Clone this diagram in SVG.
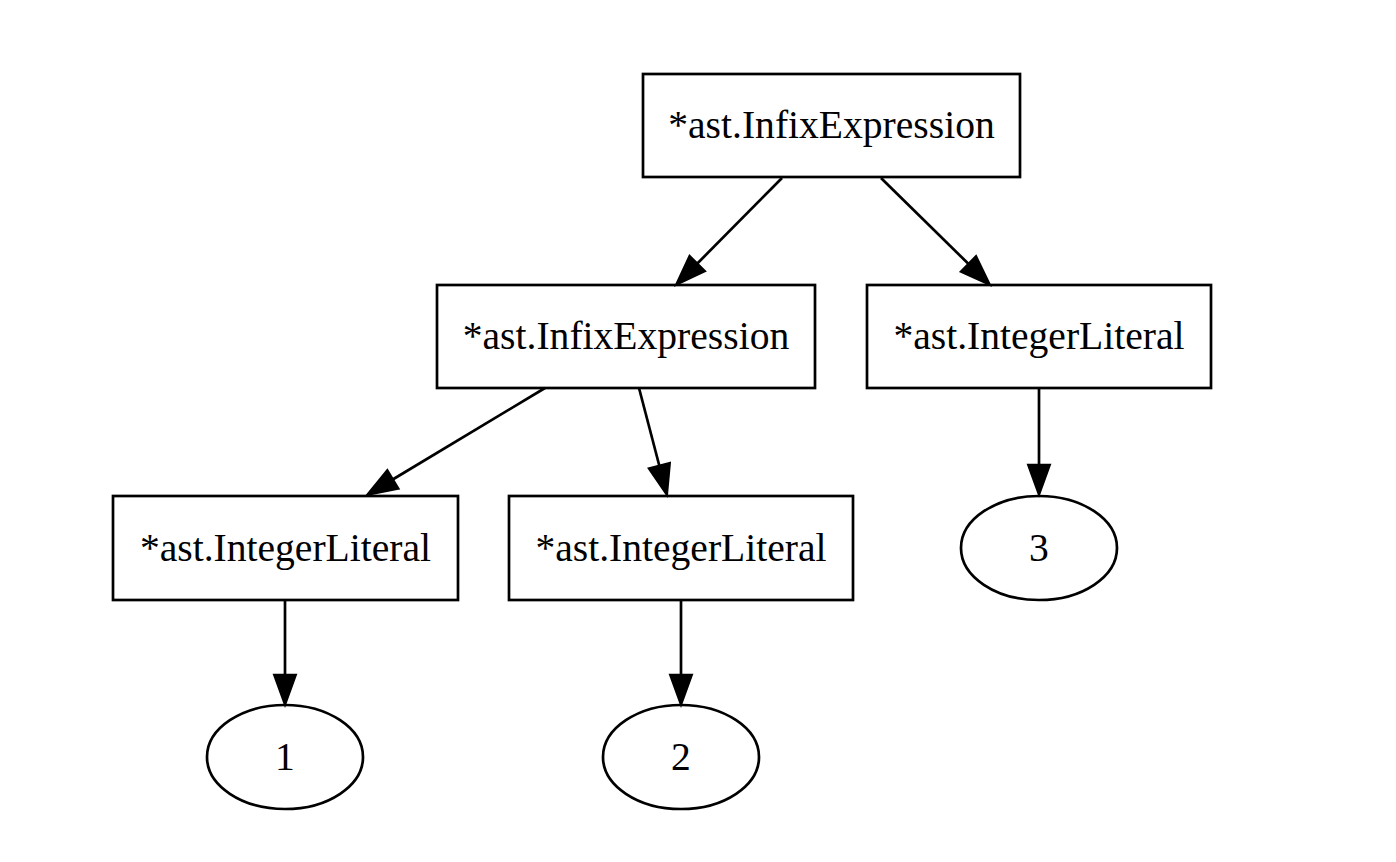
<svg xmlns="http://www.w3.org/2000/svg" width="1396" height="862" viewBox="0 0 1396 862">
  <style>
    .shape { fill: none; stroke: #000; stroke-width: 2.7; }
    .edge { fill: none; stroke: #000; stroke-width: 2.7; }
    .label { font-family: "Liberation Serif", "Times New Roman", serif; font-size: 39.6px; fill: #000; text-anchor: middle; }
  </style>
  <defs>
    <marker id="arrow" markerUnits="userSpaceOnUse" markerWidth="34" markerHeight="26" refX="0" refY="12" orient="auto" overflow="visible">
      <path d="M0,1.5 L29,12 L0,22.5 Z" fill="#000" stroke="#000" stroke-width="2.7"/>
    </marker>
  </defs>
  <rect width="1396" height="862" fill="#fff"/>

  <!-- connectors -->
  <g id="edges">
    <line class="edge" x1="782" y1="178" x2="697.1" y2="263.7" marker-end="url(#arrow)"/>
    <line class="edge" x1="881" y1="178" x2="968.6" y2="264" marker-end="url(#arrow)"/>
    <line class="edge" x1="545" y1="388" x2="392.7" y2="479.5" marker-end="url(#arrow)"/>
    <line class="edge" x1="639" y1="388" x2="659.4" y2="466" marker-end="url(#arrow)"/>
    <line class="edge" x1="1039" y1="388" x2="1039" y2="465" marker-end="url(#arrow)"/>
    <line class="edge" x1="285" y1="600" x2="285" y2="675" marker-end="url(#arrow)"/>
    <line class="edge" x1="681" y1="600" x2="681" y2="675" marker-end="url(#arrow)"/>
  </g>

  <!-- nodes -->
  <g id="root-infix">
    <rect class="shape" x="643" y="74" width="377" height="103"/>
    <text class="label" x="831.5" y="138">*ast.InfixExpression</text>
  </g>
  <g id="left-infix">
    <rect class="shape" x="437" y="285" width="378" height="103"/>
    <text class="label" x="626" y="349">*ast.InfixExpression</text>
  </g>
  <g id="int-3">
    <rect class="shape" x="867" y="285" width="344" height="103"/>
    <text class="label" x="1039" y="349">*ast.IntegerLiteral</text>
  </g>
  <g id="int-1">
    <rect class="shape" x="113" y="496" width="345" height="104"/>
    <text class="label" x="285.5" y="560.5">*ast.IntegerLiteral</text>
  </g>
  <g id="int-2">
    <rect class="shape" x="509" y="496" width="344" height="104"/>
    <text class="label" x="681" y="560.5">*ast.IntegerLiteral</text>
  </g>
  <g id="value-3">
    <ellipse class="shape" cx="1039" cy="548" rx="78" ry="52"/>
    <text class="label" x="1039" y="561">3</text>
  </g>
  <g id="value-1">
    <ellipse class="shape" cx="285" cy="757" rx="78" ry="52"/>
    <text class="label" x="285" y="770">1</text>
  </g>
  <g id="value-2">
    <ellipse class="shape" cx="681" cy="757" rx="78" ry="52"/>
    <text class="label" x="681" y="770">2</text>
  </g>
</svg>
